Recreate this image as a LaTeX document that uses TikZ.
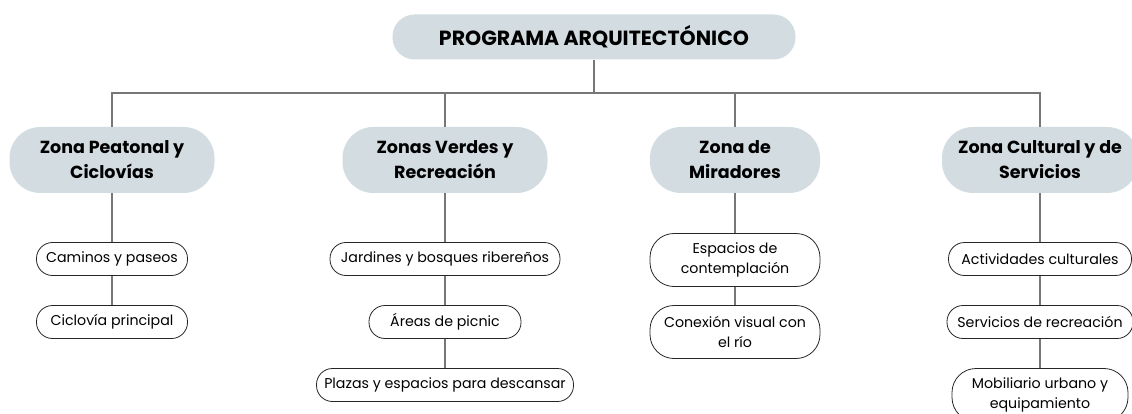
\documentclass[tikz,border=0pt]{standalone}
\usepackage{fontspec}
\setmainfont{Poppins}
\usetikzlibrary{positioning}
\definecolor{zonegray}{HTML}{D3DCE1}
\definecolor{linkgray}{HTML}{777777}

\begin{document}
\begin{tikzpicture}[x=1pt,y=-1pt,node distance=63pt,on grid,
  main/.style={rectangle,rounded corners=22pt,fill=zonegray,minimum width=403pt,minimum height=45pt,font=\bfseries\fontsize{20.5}{24}\selectfont},
  zone/.style={rectangle,rounded corners=31pt,fill=zonegray,align=center,minimum height=66pt,inner xsep=2pt,font=\bfseries\fontsize{17.5}{25}\selectfont},
  item/.style={rectangle,rounded corners=16pt,draw=black!85,line width=0.8pt,align=center,minimum height=33pt,inner xsep=3pt,font=\fontsize{14.2}{20}\selectfont},
  itemtwo/.style={item,rounded corners=24pt,minimum height=53pt},
  link/.style={draw=linkgray,line width=2.6pt}]
  \useasboundingbox (0,0) rectangle (1132,414);
  \node[main]           (prog)    at (594,37)   {PROGRAMA ARQUITECTÓNICO};
  \coordinate           (bus)     at (594,93);
  \node[zone,minimum width=205pt] (peat) at (112,160)  {Zona Peatonal y\\Ciclovías};
  \node[zone,minimum width=205pt] (verd) at (445,160)  {Zonas Verdes y\\Recreación};
  \node[zone,minimum width=170pt] (mira) at (735,160)  {Zona de\\Miradores};
  \node[zone,minimum width=196pt] (cult) at (1040,160) {Zona Cultural y de\\Servicios};
  % peatonal
  \node[item,minimum width=151pt] (cami) at (112,259)   {Caminos y paseos};
  \node[item,minimum width=151pt] (cicl) [below=of cami] {Ciclovía principal};
  % verdes
  \node[item,minimum width=230pt] (jard) at (445,259)   {Jardines y bosques ribereños};
  \node[item,minimum width=152pt] (pic)  [below=of jard] {Áreas de picnic};
  \node[item,minimum width=257pt] (plaz) [below=of pic]  {Plazas y espacios para descansar};
  % miradores
  \node[itemtwo,minimum width=170pt] (cont) at (735,260) {Espacios de\\contemplación};
  \node[itemtwo,minimum width=170pt] (conx) [below=72pt of cont] {Conexión visual con\\el río};
  % cultural
  \node[item,minimum width=183pt] (acti) at (1040,259)  {Actividades culturales};
  \node[item,minimum width=186pt] (serv) [below=of acti] {Servicios de recreación};
  \node[itemtwo,minimum width=176pt] (mobi) [below=73pt of serv] {Mobiliario urbano y\\equipamiento};

  \draw[link] (prog) -- (bus);
  \foreach \z in {peat,verd,mira,cult}
    \draw[link] (bus) -| (\z);
  \draw[link] (peat) -- (cami) -- (cicl);
  \draw[link] (verd) -- (jard) -- (pic) -- (plaz);
  \draw[link] (mira) -- (cont) -- (conx);
  \draw[link] (cult) -- (acti) -- (serv) -- (mobi);
\end{tikzpicture}
\end{document}
